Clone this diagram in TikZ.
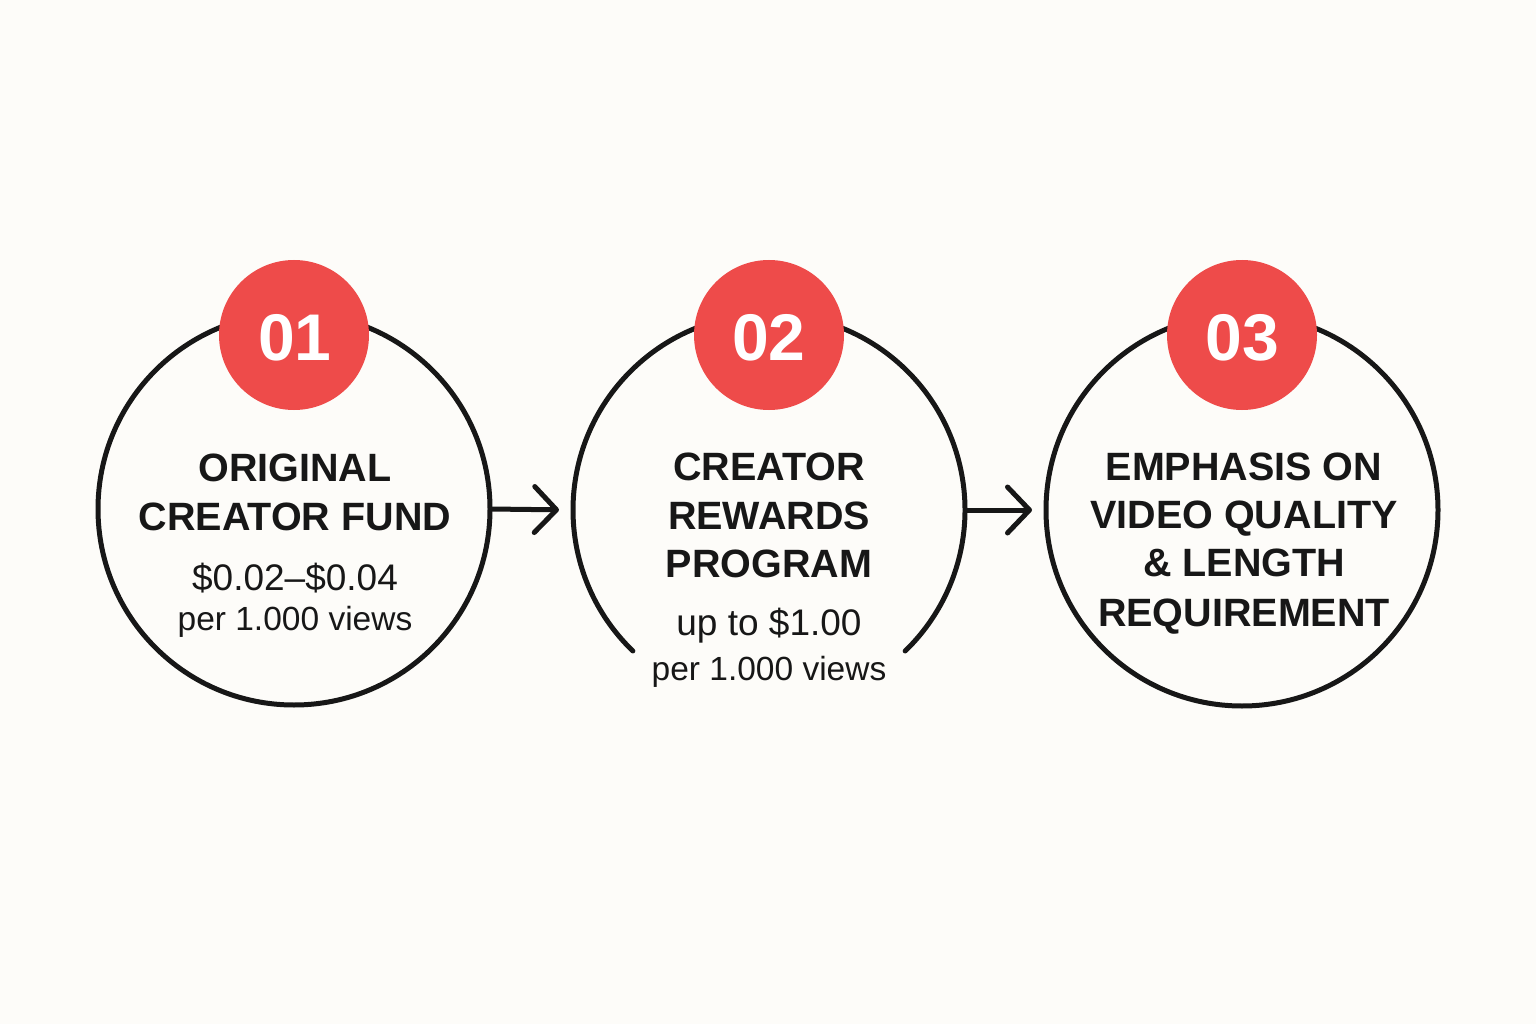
\documentclass[tikz,border=0pt]{standalone}
\usepackage{fontspec}
\setmainfont{Liberation Sans}
\usetikzlibrary{arrows.meta}
\definecolor{bg}{HTML}{FDFCF9}
\definecolor{badge}{HTML}{EE4B4A}
\definecolor{ink}{HTML}{171717}
\begin{document}
\begin{tikzpicture}[x=1pt,y=-1pt,
  ring/.style={circle, minimum size=392pt, inner sep=0pt, outer sep=0pt, line width=5pt, draw=ink},
  ringopen/.style={circle, minimum size=392pt, inner sep=0pt, outer sep=0pt},
  badgecirc/.style={circle, fill=badge, minimum size=150pt, inner sep=0pt},
  num/.style={font=\bfseries\fontsize{66}{66}\selectfont, text=white, anchor=base, inner sep=0pt},
  title/.style={font=\bfseries\fontsize{39.5}{39.5}\selectfont, text=ink, anchor=base, inner sep=0pt},
  sub/.style={font=\fontsize{37}{37}\selectfont, text=ink, anchor=base, inner sep=0pt},
  subsm/.style={font=\fontsize{33.5}{33.5}\selectfont, text=ink, anchor=base, inner sep=0pt},
  flow/.style={draw=ink, line width=5pt, -{Straight Barb[length=22pt,width=46pt,round]}, shorten >=14pt}
]
\useasboundingbox (0,0) rectangle (1536,1024);
\fill[bg] (0,0) rectangle (1536,1024);

% rings
\node[ring] (c1) at (294,509) {};
\node[ringopen] (c2) at (769,510) {};
\draw[ink, line width=5pt, line cap=round] ([shift={(134:196)}]c2.center) arc[start angle=134, end angle=406, radius=196];
\node[ring] (c3) at (1242,510) {};

% connectors
\draw[flow] (c1.east) -- (c2.west);
\draw[flow] (c2.east) -- (c3.west);

% badges
\node[badgecirc] (b1) at (294,335) {};
\node[badgecirc] (b2) at (769,335) {};
\node[badgecirc] (b3) at (1242,335) {};
\node[num] (n1) at (295,360.5) {01};
\node[num] (n2) at (769,360.5) {02};
\node[num] (n3) at (1242,360.5) {03};

% circle 1 text
\node[title] (t1a) at (295,481) {ORIGINAL};
\node[title] (t1b) at (295,530) {CREATOR FUND};
\node[sub] (s1a) at (295,590) {\$0.02–\$0.04};
\node[subsm] (s1b) at (295,630) {per 1.000 views};

% circle 2 text
\node[title] (t2a) at (769,480) {CREATOR};
\node[title] (t2b) at (769,529) {REWARDS};
\node[title] (t2c) at (769,577) {PROGRAM};
\node[sub] (s2a) at (769,635) {up to \$1.00};
\node[subsm] (s2b) at (769,680) {per 1.000 views};

% circle 3 text
\node[title] (t3a) at (1244,480.5) {EMPHASIS ON};
\node[title] (t3b) at (1244,528) {VIDEO QUALITY};
\node[title] (t3c) at (1244,576.5) {\& LENGTH};
\node[title] (t3d) at (1244,626) {REQUIREMENT};
\end{tikzpicture}
\end{document}
